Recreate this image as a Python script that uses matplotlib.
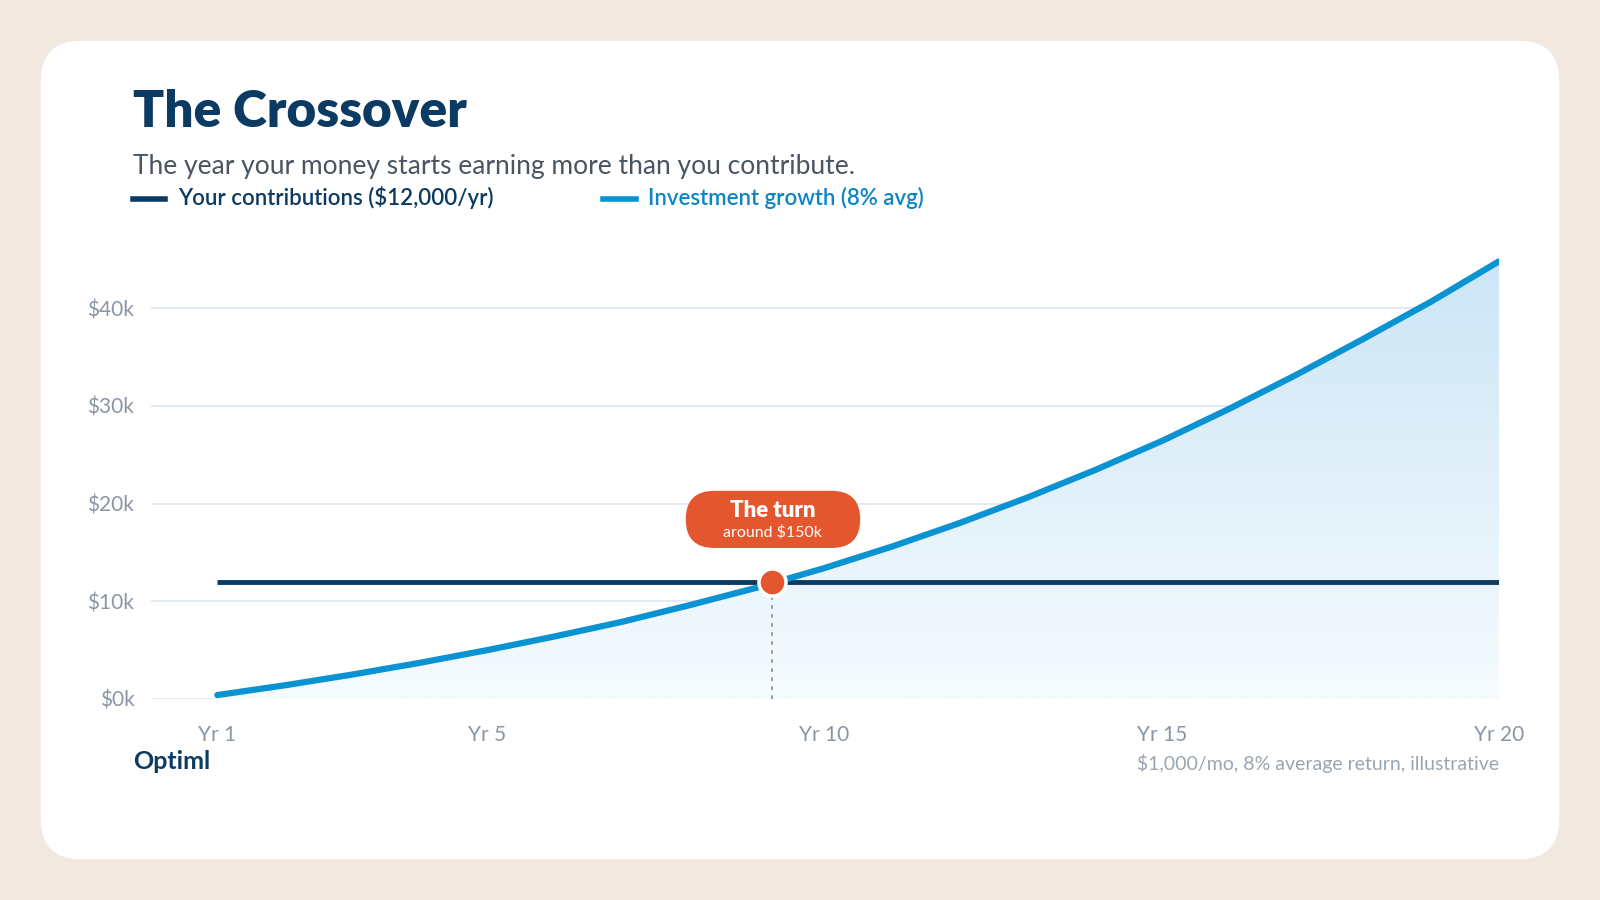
import numpy as np
import matplotlib.pyplot as plt
from matplotlib.patches import FancyBboxPatch
from matplotlib.path import Path
from matplotlib.patches import PathPatch
from matplotlib.colors import LinearSegmentedColormap

plt.rcParams['font.family'] = ['Lato', 'DejaVu Sans']

years = np.arange(1, 21)
growth = [0.4, 1.4, 2.5, 3.7, 5.0, 6.4, 7.9, 9.6, 11.4, 13.4,
          15.6, 18.0, 20.6, 23.4, 26.4, 29.7, 33.2, 36.9, 40.7, 44.8]
contrib = 12.0
cross_year = 9.22
y_ticks = [0, 10, 20, 30, 40]
y_labels = ['$0k', '$10k', '$20k', '$30k', '$40k']
x_ticks = [1, 5, 10, 15, 20]
x_labels = ['Yr 1', 'Yr 5', 'Yr 10', 'Yr 15', 'Yr 20']

navy = '#0b3a63'
blue = '#0a93d2'
orange = '#e4572e'
grey = '#8a96a3'

fig = plt.figure(figsize=(16, 9), dpi=100)
fig.patch.set_facecolor('#f1e9df')
W, H = 1568, 882
card = FancyBboxPatch((40 / W, 1 - 842 / H), 1488 / W, 802 / H,
                      boxstyle='round,pad=0,rounding_size=0.025',
                      transform=fig.transFigure, facecolor='white',
                      edgecolor='none', mutation_aspect=16 / 9, zorder=-5)
fig.patches.append(card)

ax = fig.add_axes([148 / W, 1 - 685 / H, (1469 - 148) / W, 0.4993])
for s in ax.spines.values():
    s.set_visible(False)
ax.patch.set_visible(False)
ax.set_yticks(y_ticks, y_labels)
ax.set_xticks(x_ticks, x_labels)
ax.tick_params(length=0, labelsize=15, labelcolor=grey)
ax.tick_params(axis='x', pad=19)
ax.tick_params(axis='y', pad=12)
ax.grid(axis='y', color='#dde8f1', lw=1.2)
ax.set_axisbelow(True)

# gradient fill under the growth line
verts = [(1, 0)] + list(zip(years, growth)) + [(20, 0), (1, 0)]
clip = PathPatch(Path(verts), facecolor='none', edgecolor='none')
ax.add_patch(clip)
grad = np.linspace(0, 1, 256).reshape(-1, 1)
img = ax.imshow(grad, extent=[1, 20, 0, 46], origin='lower', aspect='auto',
                cmap=LinearSegmentedColormap.from_list('g', ['#f6fbfe', '#cbe5f5']),
                zorder=1)
img.set_clip_path(clip)
ax.set_xlim(0.017, 20)
ax.set_ylim(0, 46)

ax.plot([1, 20], [contrib, contrib], color=navy, lw=3.5, zorder=3,
        solid_capstyle='butt')
ax.plot(years, growth, color=blue, lw=4.5, zorder=4, solid_capstyle='round')
ax.plot([cross_year, cross_year], [0, contrib], color=grey, lw=1.3,
        ls=(0, (2, 3)), zorder=2)
ax.scatter([cross_year], [contrib], s=380, color=orange, edgecolor='white',
           linewidth=2.5, zorder=5)

# pill-shaped callout
pill = FancyBboxPatch((672 / W, 1 - 537 / H), 171 / W, 56 / H,
                      boxstyle='round,pad=0,rounding_size=%f' % (28 / W),
                      transform=fig.transFigure, facecolor=orange,
                      edgecolor='none', mutation_aspect=W / H)
fig.patches.append(pill)
fig.text(757 / W, 1 - 500 / H, 'The turn', ha='center', va='center',
         fontsize=16, fontweight='heavy', color='white')
fig.text(757 / W, 1 - 522 / H, 'around $150k', ha='center', va='center',
         fontsize=11.5, color='white')

fig.text(130 / W, 1 - 110 / H, 'The Crossover', fontsize=37, fontweight='heavy',
         color=navy, va='center')
fig.text(130 / W, 1 - 163 / H,
         'The year your money starts earning more than you contribute.',
         fontsize=19, color='#4a5561', va='center')
fig.lines.append(plt.Line2D([130 / W, 162 / W], [1 - 195 / H] * 2,
                            transform=fig.transFigure, color=navy, lw=4))
fig.text(175 / W, 1 - 194 / H, 'Your contributions ($12,000/yr)',
         fontsize=16, fontweight='semibold', color=navy, va='center')
fig.lines.append(plt.Line2D([591 / W, 623 / W], [1 - 195 / H] * 2,
                            transform=fig.transFigure, color=blue, lw=4))
fig.text(635 / W, 1 - 194 / H, 'Investment growth (8% avg)',
         fontsize=16, fontweight='semibold', color='#0a86c4', va='center')
fig.text(130 / W, 1 - 746 / H, 'Optiml', fontsize=18, fontweight='bold',
         color=navy, va='center')
fig.text(1469 / W, 1 - 748 / H, '$1,000/mo, 8% average return, illustrative',
         fontsize=14, color='#9aa5b0', va='center', ha='right')

fig.savefig('out.png', dpi=100, facecolor=fig.get_facecolor())
